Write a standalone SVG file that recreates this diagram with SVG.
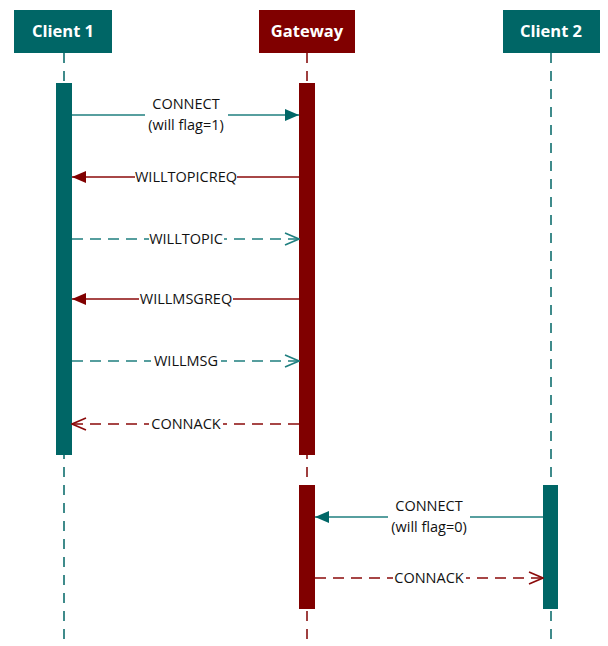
<svg xmlns="http://www.w3.org/2000/svg" width="608" height="646" viewBox="0 0 608 646">
<style>
.hdr{font-family:"Open Sans","Liberation Sans",sans-serif;font-weight:bold;font-size:16.5px;fill:#fff;text-anchor:middle}
.lbl{font-family:"Open Sans","Liberation Sans",sans-serif;font-size:14.5px;fill:#111;text-anchor:middle}
.ll-t{stroke:#006666;stroke-width:1.5;stroke-dasharray:10 8}
.ll-r{stroke:#800000;stroke-width:1.5;stroke-dasharray:10 8}
.mt{stroke:#1f7f7f;stroke-width:1.6;fill:none}
.mr{stroke:#8b0a0a;stroke-width:1.6;fill:none}
.dash{stroke-dasharray:11 7}
.bg{fill:#fff}
</style>
<defs>
<marker id="ft" markerWidth="14" markerHeight="12" refX="14" refY="6" orient="auto" markerUnits="userSpaceOnUse"><path d="M0,0 L14,6 L0,12 Z" fill="#006666"/></marker>
<marker id="fr" markerWidth="14" markerHeight="12" refX="14" refY="6" orient="auto" markerUnits="userSpaceOnUse"><path d="M0,0 L14,6 L0,12 Z" fill="#800000"/></marker>
<marker id="ot" markerWidth="16" markerHeight="14" refX="15" refY="7" orient="auto" markerUnits="userSpaceOnUse"><path d="M1,1 L15,7 L1,13" fill="none" stroke="#1f7f7f" stroke-width="1.6"/></marker>
<marker id="or" markerWidth="16" markerHeight="14" refX="15" refY="7" orient="auto" markerUnits="userSpaceOnUse"><path d="M1,1 L15,7 L1,13" fill="none" stroke="#8b0a0a" stroke-width="1.6"/></marker>
</defs>
<rect width="608" height="646" fill="#fff"/>
<g id="lifelines">
<line class="ll-t" x1="64" y1="53" x2="64" y2="646"/>
<line class="ll-r" x1="307" y1="53" x2="307" y2="646"/>
<line class="ll-t" x1="551" y1="53" x2="551" y2="646"/>
</g>
<g id="client1"><rect x="14" y="10" width="98" height="43" fill="#006666"/><text class="hdr" x="63" y="37">Client 1</text></g>
<g id="gateway"><rect x="259" y="10" width="96" height="43" fill="#800000"/><text class="hdr" x="307" y="37">Gateway</text></g>
<g id="client2"><rect x="503" y="10" width="97" height="43" fill="#006666"/><text class="hdr" x="551" y="37">Client 2</text></g>
<g id="activations">
<rect x="56" y="83" width="16" height="372" fill="#006666"/>
<rect x="299" y="83" width="16" height="372" fill="#800000"/>
<rect x="299" y="485" width="16" height="124" fill="#800000"/>
<rect x="543" y="485" width="15" height="124" fill="#006666"/>
</g>
<g id="connectors">
<line class="mt" x1="72" y1="115" x2="299" y2="115" marker-end="url(#ft)"/>
<rect class="bg" x="145" y="97" width="83" height="34"/>
<text class="lbl" x="186" y="109">CONNECT</text>
<text class="lbl" x="186" y="130">(will flag=1)</text>

<line class="mr" x1="299" y1="177" x2="72" y2="177" marker-end="url(#fr)"/>
<rect class="bg" x="135" y="169" width="102" height="17"/>
<text class="lbl" x="186" y="182">WILLTOPICREQ</text>

<line class="mt dash" x1="72" y1="239" x2="299" y2="239" marker-end="url(#ot)"/>
<rect class="bg" x="149" y="231" width="75" height="17"/>
<text class="lbl" x="186" y="244">WILLTOPIC</text>

<line class="mr" x1="299" y1="299" x2="72" y2="299" marker-end="url(#fr)"/>
<rect class="bg" x="139" y="291" width="94" height="17"/>
<text class="lbl" x="186" y="304">WILLMSGREQ</text>

<line class="mt dash" x1="72" y1="361" x2="299" y2="361" marker-end="url(#ot)"/>
<rect class="bg" x="151" y="353" width="70" height="17"/>
<text class="lbl" x="186" y="366">WILLMSG</text>

<line class="mr dash" x1="299" y1="424" x2="72" y2="424" marker-end="url(#or)"/>
<rect class="bg" x="149" y="416" width="74" height="17"/>
<text class="lbl" x="186" y="429">CONNACK</text>

<line class="mt" x1="543" y1="517" x2="315" y2="517" marker-end="url(#ft)"/>
<rect class="bg" x="388" y="499" width="82" height="34"/>
<text class="lbl" x="429" y="511">CONNECT</text>
<text class="lbl" x="429" y="532">(will flag=0)</text>

<line class="mr dash" x1="315" y1="578" x2="543" y2="578" marker-end="url(#or)"/>
<rect class="bg" x="393" y="570" width="73" height="17"/>
<text class="lbl" x="429" y="583">CONNACK</text>
</g>
</svg>
